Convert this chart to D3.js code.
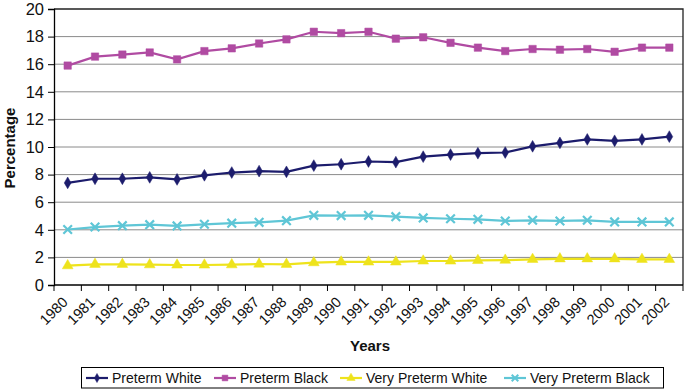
<!DOCTYPE html>
<html><head><meta charset="utf-8">
<script src="https://cdn.jsdelivr.net/npm/d3@7"></script>
<style>body{margin:0;background:#fff}svg{display:block}text{font-family:"Liberation Sans",Arial,sans-serif}</style>
</head><body><svg id="c" width="685" height="389"></svg>
<script>
const years = ["1980","1981","1982","1983","1984","1985","1986","1987","1988","1989","1990","1991","1992","1993","1994","1995","1996","1997","1998","1999","2000","2001","2002"];
const pretermWhite = [7.4,7.7,7.7,7.8,7.65,7.95,8.15,8.25,8.2,8.65,8.75,8.95,8.9,9.3,9.45,9.55,9.6,10.05,10.3,10.55,10.45,10.55,10.75];
const pretermBlack = [15.9,16.55,16.7,16.85,16.35,16.95,17.15,17.5,17.8,18.35,18.25,18.35,17.85,17.95,17.55,17.2,16.95,17.1,17.05,17.1,16.9,17.2,17.2];
const veryPretermWhite = [1.4,1.5,1.5,1.47,1.45,1.45,1.47,1.52,1.5,1.62,1.67,1.67,1.67,1.74,1.74,1.78,1.8,1.86,1.9,1.9,1.9,1.86,1.86];
const veryPretermBlack = [4.02,4.2,4.3,4.37,4.28,4.4,4.48,4.54,4.66,5.05,5.03,5.05,4.95,4.86,4.8,4.76,4.64,4.69,4.64,4.69,4.57,4.57,4.57];
const seriesNames = ["Preterm White","Preterm Black","Very Preterm White","Very Preterm Black"];
const yTicks = [0,2,4,6,8,10,12,14,16,18,20];

const series = [
  {name: seriesNames[0], values: pretermWhite, color: "#1c1c6c", sym: d3.symbolDiamond, size: 40, fill: true},
  {name: seriesNames[1], values: pretermBlack, color: "#b04ba2", sym: d3.symbolSquare, size: 55, fill: true},
  {name: seriesNames[2], values: veryPretermWhite, color: "#eee31c", sym: d3.symbolTriangle, size: 50, fill: true},
  {name: seriesNames[3], values: veryPretermBlack, color: "#5fc6d6", sym: d3.symbolTimes, size: 50, fill: false}
];

const svg = d3.select("#c");
const L = 54, R = 683, T = 9, B = 285;
const x = d3.scaleBand().domain(years).range([L, R]);
const y = d3.scaleLinear().domain([0, 20]).range([B, T]);

// gridlines
svg.append("g").selectAll("line").data(yTicks.filter(d => d > 0 && d < 20)).join("line")
  .attr("x1", L).attr("x2", R).attr("y1", d => y(d)).attr("y2", d => y(d))
  .attr("stroke", "#8a8a8a").attr("stroke-width", 1);

// frame top/right
svg.append("path").attr("d", `M${L},${T}H${R}V${B}`).attr("fill", "none").attr("stroke", "#222").attr("stroke-width", 1.3);

// y axis
const ya = svg.append("g").attr("transform", `translate(${L},0)`)
  .call(d3.axisLeft(y).tickValues(yTicks).tickSize(6).tickPadding(4).tickFormat(d3.format("d")));
ya.select(".domain").attr("stroke", "#000").attr("stroke-width", 1.3);
ya.selectAll(".tick line").attr("stroke", "#000");
ya.selectAll("text").attr("font-size", 16.5).attr("fill", "#111").attr("font-family", "Liberation Sans, Arial, sans-serif");

// x axis
const bounds = years.map(d => x(d)).concat([R]);
const xa = svg.append("g");
xa.append("line").attr("x1", L).attr("x2", R).attr("y1", B).attr("y2", B).attr("stroke", "#000").attr("stroke-width", 1.3);
xa.selectAll("line.tk").data(bounds).join("line").attr("class", "tk")
  .attr("x1", d => d).attr("x2", d => d).attr("y1", B).attr("y2", B + 6).attr("stroke", "#000");
xa.selectAll("text").data(years).join("text")
  .attr("transform", d => `translate(${x(d) + x.bandwidth() / 2 + 1},${B + 18}) rotate(-45)`)
  .attr("text-anchor", "end").attr("font-size", 14.5).attr("fill", "#111").text(d => d);

// axis titles
svg.append("text").attr("transform", "translate(15,148) rotate(-90)").attr("text-anchor", "middle")
  .attr("font-size", 15).attr("font-weight", "bold").attr("fill", "#111").text("Percentage");
svg.append("text").attr("x", 370).attr("y", 351).attr("text-anchor", "middle")
  .attr("font-size", 15).attr("font-weight", "bold").attr("fill", "#111").text("Years");

// lines
const line = d3.line().x((d, i) => x(years[i]) + x.bandwidth() / 2).y(d => y(d));
series.forEach(s => {
  const g = svg.append("g");
  g.append("path").attr("d", line(s.values)).attr("fill", "none").attr("stroke", s.color).attr("stroke-width", 2.2);
  g.selectAll("path.m").data(s.values).join("path").attr("class", "m")
    .attr("transform", (d, i) => `translate(${x(years[i]) + x.bandwidth() / 2},${y(d)})`)
    .attr("d", d3.symbol(s.sym, s.size))
    .attr("fill", s.fill ? s.color : "none").attr("stroke", s.color).attr("stroke-width", s.fill ? 0.5 : 2.2);
});

// legend
const lg = svg.append("g");
lg.append("rect").attr("x", 81.5).attr("y", 367.5).attr("width", 582).attr("height", 20.5)
  .attr("fill", "#fff").attr("stroke", "#000").attr("stroke-width", 1);
const lx = [86, 214, 340, 504];
series.forEach((s, i) => {
  const g = lg.append("g").attr("transform", `translate(${lx[i]},378)`);
  g.append("line").attr("x1", 0).attr("x2", 22).attr("stroke", s.color).attr("stroke-width", 2.2);
  g.append("path").attr("transform", "translate(11,0)").attr("d", d3.symbol(s.sym, s.size * 0.6))
    .attr("fill", s.fill ? s.color : "none").attr("stroke", s.color).attr("stroke-width", s.fill ? 0.5 : 2);
  g.append("text").attr("x", 26).attr("y", 5).attr("font-size", 14).attr("fill", "#111").text(s.name);
});
</script></body></html>
